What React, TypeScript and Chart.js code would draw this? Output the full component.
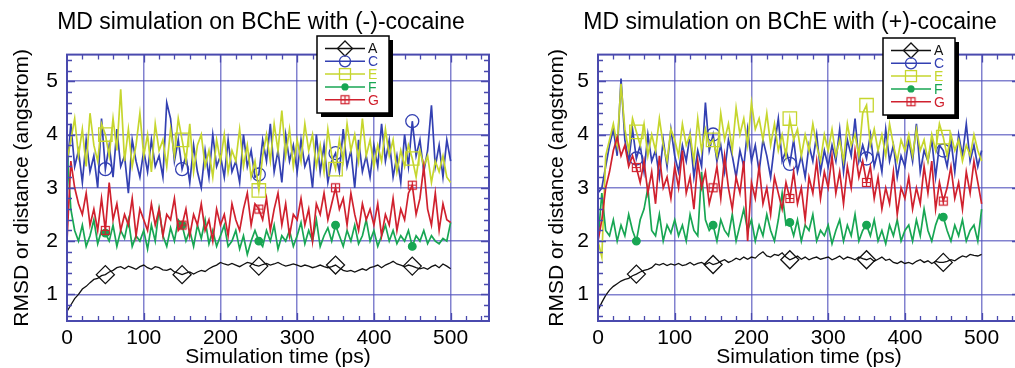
import React, { useEffect, useRef } from 'react';
import { Chart, registerables } from 'chart.js';

Chart.register(...registerables);

// ---------------- data ----------------
const TIME_STEP_PS = 5; // samples every 5 ps, 0..500
const MARKER_TIMES = [50, 150, 250, 350, 450];
const X_TICKS = [0, 100, 200, 300, 400, 500];
const Y_TICKS = [1, 2, 3, 4, 5];
const SERIES_NAMES = ['A', 'C', 'E', 'F', 'G'];
const PANEL_TITLES = ['MD simulation on BChE with (-)-cocaine', 'MD simulation on BChE with (+)-cocaine'];
const X_TITLE = 'Simulation time (ps)';
const Y_TITLE = 'RMSD or distance (angstrom)';

// (-)-cocaine
const MINUS_A = [
  0.68, 0.80, 0.92, 1.00, 1.10, 1.15, 1.22, 1.28, 1.30, 1.35,
  1.37, 1.42, 1.45, 1.50, 1.52, 1.48, 1.53, 1.50, 1.47, 1.52,
  1.55, 1.50, 1.47, 1.52, 1.50, 1.46, 1.45, 1.48, 1.42, 1.40,
  1.37, 1.40, 1.42, 1.38, 1.42, 1.45, 1.43, 1.48, 1.52, 1.55,
  1.60, 1.57, 1.55, 1.58, 1.55, 1.52, 1.56, 1.60, 1.58, 1.55,
  1.53, 1.56, 1.58, 1.55, 1.57, 1.60, 1.56, 1.53, 1.55, 1.57,
  1.55, 1.52, 1.55, 1.53, 1.50, 1.52, 1.55, 1.52, 1.50, 1.52,
  1.55, 1.50, 1.45, 1.43, 1.45, 1.42, 1.45, 1.48, 1.45, 1.50,
  1.52, 1.55, 1.50, 1.55, 1.58, 1.62, 1.57, 1.55, 1.52, 1.55,
  1.53, 1.50, 1.48, 1.50, 1.47, 1.52, 1.55, 1.50, 1.57, 1.53,
  1.48,
];
const MINUS_C = [
  3.30, 4.20, 3.40, 3.70, 3.10, 3.90, 3.30, 3.60, 3.00, 4.30,
  3.35, 3.80, 3.20, 4.10, 3.40, 3.60, 2.90, 3.90, 3.50, 3.20,
  3.70, 3.30, 3.90, 3.40, 3.60, 3.20, 4.60, 4.30, 3.50, 3.90,
  3.35, 3.60, 3.10, 3.80, 3.30, 3.00, 3.70, 3.20, 4.00, 3.40,
  3.60, 3.20, 3.90, 3.30, 3.50, 3.10, 4.00, 3.40, 3.70, 3.20,
  3.25, 3.90, 3.50, 4.20, 3.30, 3.70, 3.10, 4.00, 3.50, 3.80,
  3.30, 3.90, 3.40, 3.60, 3.00, 4.00, 3.30, 3.80, 3.10, 3.50,
  3.65, 3.30, 4.10, 3.40, 3.70, 3.00, 3.90, 3.30, 3.60, 3.20,
  3.80, 3.40, 4.20, 3.50, 3.90, 3.20, 3.60, 3.10, 4.00, 3.40,
  4.25, 3.60, 3.90, 3.30, 3.70, 4.55, 3.40, 3.80, 3.20, 3.90,
  3.50,
];
const MINUS_E = [
  3.50, 3.90, 4.30, 3.60, 4.10, 3.40, 4.40, 3.80, 3.50, 4.20,
  4.00, 3.60, 4.30, 3.70, 4.85, 3.50, 4.10, 3.40, 3.80, 4.40,
  3.60, 4.00, 3.30, 4.20, 3.70, 3.90, 3.40, 4.10, 3.60, 4.30,
  3.90, 3.50, 4.20, 3.30, 3.80, 4.00, 3.40, 3.70, 3.20, 3.90,
  3.50, 4.00, 3.30, 3.70, 3.50, 4.10, 3.40, 3.80, 3.20, 3.50,
  2.95, 3.60, 4.00, 3.50, 4.20, 3.70, 4.45, 3.60, 4.10, 3.40,
  3.90, 3.50, 4.20, 3.70, 4.00, 3.40, 3.80, 3.30, 4.10, 3.60,
  3.35, 3.90, 3.50, 4.20, 3.70, 4.00, 3.50, 4.30, 3.60, 3.90,
  3.40, 3.80, 3.50, 4.10, 3.60, 3.90, 3.30, 3.70, 3.40, 3.80,
  3.55, 3.20, 3.70, 3.40, 3.60, 3.10, 3.50, 3.30, 3.60, 3.20,
  3.10,
];
const MINUS_F = [
  3.70, 2.60, 2.20, 2.00, 2.30, 1.90, 2.10, 2.40, 1.95, 2.20,
  2.15, 2.00, 2.30, 1.90, 2.20, 2.05, 2.40, 1.90, 2.10, 2.00,
  2.20, 1.85, 2.30, 2.00, 2.60, 2.10, 1.90, 2.25, 2.00, 2.40,
  2.30, 2.00, 2.20, 1.90, 2.30, 2.05, 2.40, 1.95, 2.20, 1.90,
  2.10, 2.30, 1.90, 2.00, 2.20, 1.85, 2.10, 1.75, 2.00, 2.20,
  2.00, 1.90, 2.20, 2.00, 2.30, 1.85, 2.10, 2.00, 2.20, 1.90,
  2.10, 2.35, 1.95, 2.20, 2.00, 2.40, 1.90, 2.10, 2.25, 2.00,
  2.30, 2.10, 1.90, 2.20, 2.00, 2.30, 1.95, 2.10, 2.40, 2.00,
  2.20, 1.90, 2.10, 2.30, 2.00, 2.20, 1.95, 2.10, 2.00, 2.20,
  1.90, 2.10, 2.00, 2.20, 1.95, 2.10, 2.00, 1.95, 2.05, 2.00,
  2.35,
];
const MINUS_G = [
  2.00, 3.50, 3.00, 2.70, 2.50, 2.90, 2.30, 2.60, 2.20, 2.80,
  2.20, 3.10, 2.40, 2.70, 2.20, 2.50, 2.30, 2.80, 2.10, 2.60,
  2.40, 2.20, 2.70, 2.30, 2.60, 2.10, 2.50, 2.40, 2.80, 2.20,
  2.30, 2.60, 2.10, 2.50, 2.30, 2.70, 2.20, 2.40, 2.00, 2.60,
  2.30, 2.50, 2.10, 2.70, 2.40, 2.20, 2.60, 2.90, 2.30, 2.70,
  2.60, 2.40, 2.80, 2.20, 2.60, 2.90, 2.30, 2.70, 2.10, 2.50,
  2.40, 2.80, 2.30, 2.60, 2.00, 2.70, 2.50, 2.90, 2.40, 2.70,
  3.00, 2.60, 2.80, 2.30, 2.90, 2.50, 2.20, 2.70, 2.40, 2.60,
  2.30, 2.70, 2.10, 2.50, 2.30, 2.80, 2.20, 2.60, 2.40, 2.90,
  3.05, 2.50, 2.80, 3.40, 2.60, 2.30, 2.90, 2.20, 2.70, 2.40,
  2.35,
];

// (+)-cocaine
const PLUS_A = [
  0.70, 0.85, 0.98, 1.08, 1.15, 1.20, 1.25, 1.28, 1.30, 1.35,
  1.38, 1.42, 1.45, 1.47, 1.50, 1.57, 1.55, 1.58, 1.54, 1.57,
  1.55, 1.58, 1.54, 1.56, 1.60, 1.55, 1.58, 1.60, 1.56, 1.60,
  1.56, 1.58, 1.62, 1.65, 1.60, 1.63, 1.68, 1.65, 1.70, 1.66,
  1.70, 1.68, 1.75, 1.80, 1.72, 1.70, 1.75, 1.73, 1.78, 1.70,
  1.65, 1.68, 1.72, 1.66, 1.70, 1.65, 1.68, 1.70, 1.66, 1.68,
  1.70, 1.65, 1.68, 1.72, 1.66, 1.70, 1.68, 1.65, 1.70, 1.67,
  1.65, 1.68, 1.62, 1.66, 1.70, 1.64, 1.66, 1.60, 1.58, 1.62,
  1.58, 1.60, 1.57, 1.62, 1.65, 1.60, 1.63, 1.58, 1.62, 1.60,
  1.60, 1.62, 1.65, 1.63, 1.68, 1.72, 1.70, 1.75, 1.73, 1.72,
  1.75,
];
const PLUS_C = [
  2.90, 3.00, 3.40, 3.80, 4.10, 3.60, 5.05, 3.90, 3.50, 4.10,
  3.55, 3.80, 3.30, 4.00, 3.50, 3.70, 3.20, 3.90, 3.40, 4.10,
  3.60, 3.30, 3.80, 3.50, 4.00, 3.20, 3.70, 3.40, 4.60, 3.70,
  4.00, 3.50, 3.80, 3.30, 3.90, 3.60, 3.20, 3.70, 3.40, 4.10,
  3.50, 3.80, 3.30, 3.90, 3.60, 3.20, 3.80, 4.30, 3.50, 3.70,
  3.45, 3.90, 3.30, 3.60, 3.20, 3.80, 3.50, 4.00, 3.30, 3.70,
  3.40, 3.80, 3.50, 4.10, 3.30, 3.90, 3.60, 4.30, 3.50, 3.80,
  3.55, 4.00, 3.40, 3.70, 3.30, 4.10, 3.50, 3.80, 3.20, 3.60,
  3.40, 3.90, 3.50, 4.20, 3.30, 3.70, 3.50, 3.90, 3.20, 3.80,
  3.70, 3.40, 3.90, 3.30, 4.00, 3.60, 4.20, 3.50, 3.80, 3.40,
  3.70,
];
const PLUS_E = [
  2.00, 1.70, 3.60, 3.90, 4.20, 3.80, 4.95, 4.10, 3.70, 4.30,
  4.05, 3.80, 4.20, 3.60, 4.00, 3.70, 4.30, 3.80, 3.50, 4.10,
  3.90, 3.60, 4.20, 3.80, 4.00, 3.50, 4.30, 3.70, 4.10, 3.80,
  3.90, 3.60, 4.40, 3.90, 4.20, 3.70, 4.50, 4.00, 4.30, 3.80,
  4.60, 4.10, 4.30, 3.90, 4.40, 3.80, 4.20, 3.70, 4.00, 3.60,
  4.30, 3.90, 4.10, 3.60, 4.00, 3.70, 4.20, 3.80, 3.50, 4.00,
  3.70, 4.10, 3.60, 3.90, 3.50, 4.20, 3.80, 4.00, 3.60, 4.40,
  4.55, 3.80, 4.10, 3.70, 4.00, 3.60, 4.20, 3.80, 3.50, 3.90,
  3.70, 4.00, 3.60, 4.10, 3.70, 3.90, 3.50, 4.00, 3.70, 4.20,
  3.95, 3.60, 4.00, 3.70, 3.90, 3.50, 3.80, 3.60, 4.00, 3.70,
  3.50,
];
const PLUS_F = [
  2.00, 2.90, 2.20, 2.10, 2.40, 2.00, 2.30, 2.10, 2.50, 2.20,
  2.00, 2.40, 2.60, 3.00, 2.20, 2.10, 2.50, 2.00, 2.30, 2.15,
  2.40, 2.10, 2.30, 2.00, 2.50, 2.20, 2.10, 3.30, 2.40, 2.20,
  2.30, 2.00, 2.40, 2.20, 2.10, 2.50, 2.00, 2.30, 2.60, 2.20,
  2.40, 2.00, 2.30, 2.10, 2.50, 2.20, 2.00, 2.40, 2.90, 2.30,
  2.35, 2.10, 2.40, 2.00, 2.30, 2.20, 2.50, 2.00, 2.20, 2.10,
  2.30, 1.95, 2.20, 2.40, 2.00, 2.30, 2.10, 2.50, 2.00, 2.20,
  2.30, 2.10, 2.40, 2.00, 2.20, 1.95, 2.30, 2.10, 2.40, 2.00,
  2.20, 2.30, 2.00, 2.40, 2.10, 2.60, 2.20, 2.00, 2.30, 2.50,
  2.45, 2.20, 2.00, 2.30, 2.10, 2.40, 2.00, 2.20, 2.30, 2.00,
  2.60,
];
const PLUS_G = [
  2.00, 2.40, 3.00, 3.30, 3.70, 3.95, 3.60, 3.80, 3.40, 3.60,
  3.38, 3.10, 3.50, 2.90, 3.30, 2.70, 3.60, 3.00, 3.20, 2.80,
  3.40, 3.00, 3.70, 2.90, 3.20, 2.60, 3.50, 3.00, 3.30, 2.70,
  3.00, 3.40, 2.80, 3.60, 3.00, 2.60, 3.20, 2.90, 3.50, 2.00,
  3.10, 2.80, 3.40, 2.70, 3.00, 2.50, 3.20, 2.90, 2.60, 3.10,
  2.80, 3.30, 2.70, 3.00, 2.40, 3.20, 2.90, 3.50, 2.80, 3.30,
  3.00, 3.60, 2.90, 3.30, 2.70, 3.40, 3.00, 3.70, 3.20, 3.50,
  3.10, 3.40, 2.80, 3.20, 2.60, 3.00, 2.70, 3.30, 2.50, 3.00,
  2.80, 3.20, 2.60, 3.00, 2.70, 3.40, 2.90, 3.50, 2.60, 3.10,
  2.75, 3.00, 3.40, 2.80, 3.10, 2.60, 3.30, 2.90, 3.50, 3.10,
  2.70,
];

const TIMES = MINUS_A.map((_, i) => i * TIME_STEP_PS);

// ---------------- styles ----------------
const FONT = '"Liberation Sans", Arial, Helvetica, sans-serif';
const BLACK = '#111111';
const BLUE = '#3340b2';
const YELLOW = '#c6d62e';
const GREEN = '#18a653';
const RED = '#d0212e';
const GRID = 'rgba(82,82,188,0.72)';
const FRAME = '#4a4aae';

type Spec = { color: string; style: string; radius: number; filled: boolean; width: number };
const SPECS: Spec[] = [
  { color: BLACK, style: 'rectRot', radius: 9, filled: false, width: 1.3 },
  { color: BLUE, style: 'circle', radius: 6.5, filled: false, width: 1.7 },
  { color: YELLOW, style: 'rect', radius: 9.5, filled: false, width: 1.7 },
  { color: GREEN, style: 'circle', radius: 3.8, filled: true, width: 1.7 },
  { color: RED, style: 'boxplus', radius: 5, filled: false, width: 1.7 },
];

function makeBoxPlus(color: string): HTMLCanvasElement {
  const c = document.createElement('canvas');
  c.width = 11;
  c.height = 11;
  const g = c.getContext('2d')!;
  g.strokeStyle = color;
  g.lineWidth = 1.2;
  g.strokeRect(1.5, 1.5, 8, 8);
  g.beginPath();
  g.moveTo(5.5, 1.5);
  g.lineTo(5.5, 9.5);
  g.moveTo(1.5, 5.5);
  g.lineTo(9.5, 5.5);
  g.stroke();
  return c;
}

function drawLegendMarker(ctx: CanvasRenderingContext2D, s: Spec, cx: number, cy: number, img: HTMLCanvasElement) {
  ctx.strokeStyle = s.color;
  ctx.fillStyle = s.color;
  ctx.lineWidth = 1.3;
  if (s.style === 'rectRot') {
    const r = 7.5;
    ctx.beginPath();
    ctx.moveTo(cx - r, cy);
    ctx.lineTo(cx, cy - r);
    ctx.lineTo(cx + r, cy);
    ctx.lineTo(cx, cy + r);
    ctx.closePath();
    ctx.stroke();
  } else if (s.style === 'circle') {
    ctx.beginPath();
    ctx.arc(cx, cy, s.filled ? 3.6 : 5.5, 0, Math.PI * 2);
    if (s.filled) ctx.fill();
    else ctx.stroke();
  } else if (s.style === 'rect') {
    ctx.strokeRect(cx - 5.5, cy - 5.5, 11, 11);
  } else {
    ctx.drawImage(img, cx - img.width / 2, cy - img.height / 2);
  }
}

type PanelProps = {
  left: number;
  width: number;
  title: string;
  values: number[][];
  yAxisWidth: number;
  yTitlePad: number;
  padRight: number;
  legendX: number;
  legendY: number;
};

function Panel(p: PanelProps) {
  const ref = useRef<HTMLCanvasElement>(null);
  useEffect(() => {
    const canvas = ref.current;
    if (!canvas) return;
    const boxImg = makeBoxPlus(RED);

    const framePlugin = {
      id: 'frameTicks',
      afterDatasetsDraw(chart: any) {
        const { ctx, chartArea: a, scales } = chart;
        const xs = scales.x;
        const ys = scales.y;
        ctx.save();
        ctx.strokeStyle = FRAME;
        ctx.lineWidth = 1.3;
        ctx.beginPath();
        for (let v = 20; v < 550; v += 20) {
          const px = Math.round(xs.getPixelForValue(v)) + 0.5;
          const L = v % 100 === 0 ? 8 : 5;
          ctx.moveTo(px, a.bottom);
          ctx.lineTo(px, a.bottom - L);
          ctx.moveTo(px, a.top);
          ctx.lineTo(px, a.top + L);
        }
        for (let k = 3; k <= 27; k++) {
          const py = Math.round(ys.getPixelForValue(k * 0.2)) + 0.5;
          const L = k % 5 === 0 ? 8 : 5;
          ctx.moveTo(a.left, py);
          ctx.lineTo(a.left + L, py);
          ctx.moveTo(a.right, py);
          ctx.lineTo(a.right - L, py);
        }
        ctx.stroke();
        ctx.lineWidth = 2;
        ctx.strokeRect(a.left, a.top, a.right - a.left, a.bottom - a.top);
        ctx.restore();
      },
    };

    const legendPlugin = {
      id: 'boxLegend',
      afterDraw(chart: any) {
        const ctx: CanvasRenderingContext2D = chart.ctx;
        const x = p.legendX;
        const y = p.legendY;
        const w = 72;
        const h = 77;
        ctx.save();
        ctx.fillStyle = '#000';
        ctx.fillRect(x + 4, y + 4, w, h);
        ctx.fillStyle = '#fff';
        ctx.fillRect(x, y, w, h);
        ctx.strokeStyle = '#000';
        ctx.lineWidth = 1.5;
        ctx.strokeRect(x, y, w, h);
        ctx.font = `14px ${FONT}`;
        ctx.textBaseline = 'middle';
        ctx.textAlign = 'left';
        SPECS.forEach((s, i) => {
          const cy = y + 12.5 + i * 12.8;
          ctx.strokeStyle = s.color;
          ctx.lineWidth = 1.5;
          ctx.beginPath();
          ctx.moveTo(x + 8, cy);
          ctx.lineTo(x + 48, cy);
          ctx.stroke();
          drawLegendMarker(ctx, s, x + 28, cy, boxImg);
          ctx.fillStyle = s.color;
          ctx.fillText(SERIES_NAMES[i], x + 51, cy + 1);
        });
        ctx.restore();
      },
    };

    const datasets = SPECS.map((s, k) => ({
      label: SERIES_NAMES[k],
      data: p.values[k].map((v, i) => ({ x: TIMES[i], y: v })),
      borderColor: s.color,
      borderWidth: s.width,
      backgroundColor: s.color,
      pointStyle: s.style === 'boxplus' ? boxImg : s.style,
      pointRadius: (c: any) => (MARKER_TIMES.includes(TIMES[c.dataIndex]) ? s.radius : 0),
      pointBorderColor: s.color,
      pointBackgroundColor: s.filled ? s.color : 'rgba(0,0,0,0)',
      pointBorderWidth: 1.3,
      order: SPECS.length - k,
      tension: 0,
      fill: false,
    }));

    const chart = new Chart(canvas, {
      type: 'line',
      data: { datasets },
      plugins: [framePlugin, legendPlugin],
      options: {
        responsive: false,
        maintainAspectRatio: false,
        animation: false,
        devicePixelRatio: 1,
        events: [],
        layout: { padding: { left: 0, right: 0, top: 0, bottom: 0 } },
        plugins: {
          legend: { display: false },
          tooltip: { enabled: false },
          title: {
            display: true,
            text: p.title,
            color: '#000',
            font: { family: FONT, size: 23, weight: 'normal', lineHeight: 1.2 },
            padding: { top: 9, bottom: 18 },
          },
        },
        scales: {
          x: {
            type: 'linear',
            min: 0,
            max: 550,
            ticks: {
              stepSize: 100,
              color: '#000',
              padding: 5,
              maxRotation: 0,
              font: { family: FONT, size: 21 },
            },
            afterBuildTicks: (s: any) => {
              s.ticks = X_TICKS.map((v) => ({ value: v }));
            },
            afterFit: (s: any) => {
              s.height = 47;
            },
            grid: { color: GRID, lineWidth: 1.5, drawTicks: false },
            border: { display: false },
            title: {
              display: true,
              text: X_TITLE,
              color: '#000',
              font: { family: FONT, size: 21, lineHeight: 1.0 },
              padding: { top: 0, bottom: 0 },
            },
          },
          y: {
            type: 'linear',
            min: 0.5,
            max: 5.5,
            ticks: {
              stepSize: 1,
              color: '#000',
              padding: 9,
              font: { family: FONT, size: 21 },
            },
            afterBuildTicks: (s: any) => {
              s.ticks = Y_TICKS.map((v) => ({ value: v }));
            },
            afterFit: (s: any) => {
              s.width = p.yAxisWidth;
            },
            grid: { color: GRID, lineWidth: 1.5, drawTicks: false },
            border: { display: false },
            title: {
              display: true,
              text: Y_TITLE,
              color: '#000',
              font: { family: FONT, size: 21, lineHeight: 1.2 },
              padding: { top: p.yTitlePad, bottom: 0 },
            },
          },
          pad: {
            type: 'linear',
            position: 'right',
            display: true,
            grid: { display: false, drawTicks: false },
            ticks: { display: false },
            border: { display: false },
            afterFit: (s: any) => {
              s.width = p.padRight;
            },
          },
        },
      } as any,
    });
    return () => chart.destroy();
  }, []);
  return (
    <canvas
      ref={ref}
      width={p.width}
      height={368}
      style={{ position: 'absolute', left: p.left, top: 0, width: p.width, height: 368, display: 'block' }}
    />
  );
}

export default function App() {
  return (
    <div
      style={{
        position: 'fixed',
        left: 0,
        top: 0,
        width: 1015,
        height: 368,
        overflow: 'hidden',
        background: '#ffffff',
      }}
    >
      <Panel
        left={0}
        width={522}
        title={PANEL_TITLES[0]}
        values={[MINUS_A, MINUS_C, MINUS_E, MINUS_F, MINUS_G]}
        yAxisWidth={67}
        yTitlePad={10}
        padRight={33}
        legendX={317}
        legendY={36}
      />
      <Panel
        left={522}
        width={536}
        title={PANEL_TITLES[1]}
        values={[PLUS_A, PLUS_C, PLUS_E, PLUS_F, PLUS_G]}
        yAxisWidth={76}
        yTitlePad={23}
        padRight={38}
        legendX={361}
        legendY={38}
      />
    </div>
  );
}
